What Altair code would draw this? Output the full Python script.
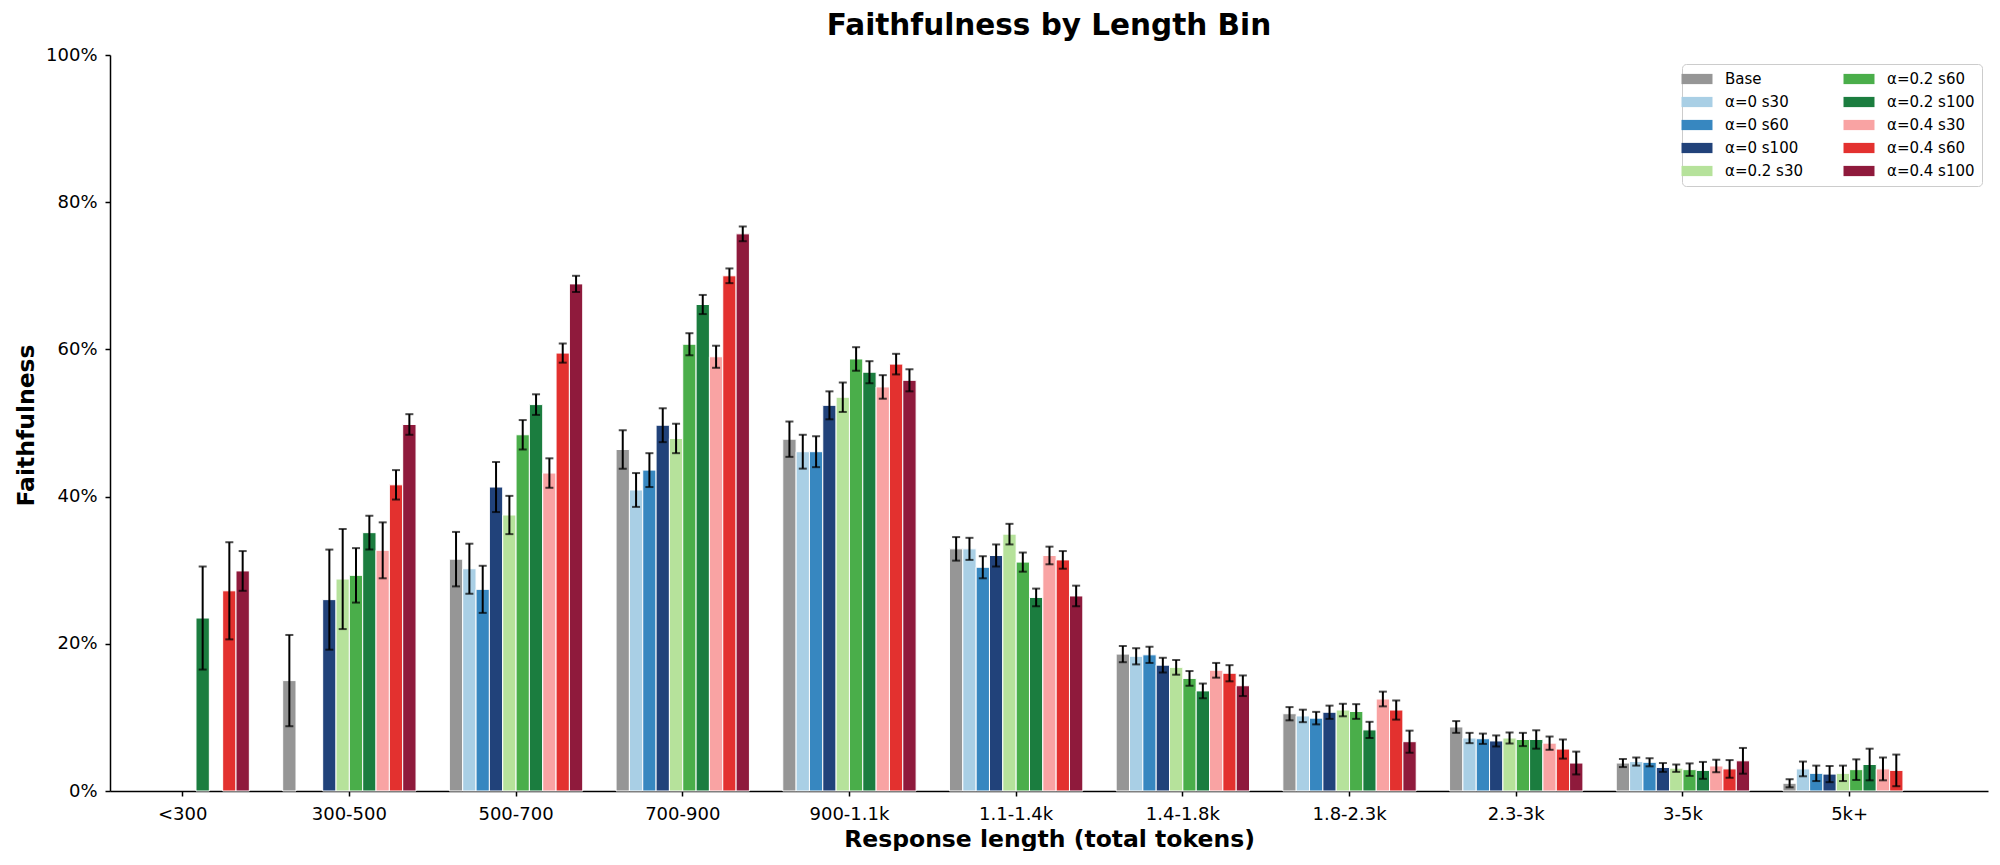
import altair as alt
import pandas as pd

bins = ["<300", "300-500", "500-700", "700-900", "900-1.1k", "1.1-1.4k",
        "1.4-1.8k", "1.8-2.3k", "2.3-3k", "3-5k", "5k+"]

series = ["Base", "α=0 s30", "α=0 s60", "α=0 s100", "α=0.2 s30",
          "α=0.2 s60", "α=0.2 s100", "α=0.4 s30", "α=0.4 s60", "α=0.4 s100"]

colors = ["#969696", "#a9cfe5", "#3787c0", "#21427a", "#b6e29b",
          "#4aae4a", "#1b7d3f", "#f9a3a3", "#e3312f", "#8f1a3c"]

# faithfulness (%) per series across the 11 bins (None = no bar)
base_v   = [None, 15.0, 31.5, 46.4, 47.8, 32.9, 18.6, 10.5, 8.7, 3.8, 1.05]
a0s30_v  = [None, None, 30.2, 40.9, 46.1, 32.9, 18.3, 10.2, 7.2, 4.0, 3.0]
a0s60_v  = [None, None, 27.4, 43.6, 46.1, 30.4, 18.5, 9.9, 7.1, 3.9, 2.4]
a0s100_v = [None, 26.0, 41.3, 49.7, 52.4, 32.0, 17.1, 10.7, 6.8, 3.2, 2.3]
a2s30_v  = [None, 28.8, 37.5, 47.9, 53.5, 34.9, 16.8, 11.0, 7.2, 3.1, 2.4]
a2s60_v  = [None, 29.3, 48.4, 60.7, 58.7, 31.1, 15.3, 10.8, 7.0, 2.9, 2.9]
a2s100_v = [23.5, 35.1, 52.5, 66.1, 56.9, 26.3, 13.6, 8.3, 7.0, 2.8, 3.6]
a4s30_v  = [None, 32.7, 43.2, 59.0, 54.9, 32.0, 16.4, 12.5, 6.5, 3.4, 3.0]
a4s60_v  = [27.2, 41.6, 59.5, 70.0, 58.0, 31.4, 16.0, 11.0, 5.7, 3.0, 2.8]
a4s100_v = [29.9, 49.8, 68.9, 75.7, 55.8, 26.5, 14.3, 6.7, 3.8, 4.1, None]

# error bar half-widths (%)
base_e   = [None, 6.2, 3.7, 2.6, 2.4, 1.6, 1.1, 0.9, 0.8, 0.55, 0.55]
a0s30_e  = [None, None, 3.4, 2.3, 2.3, 1.5, 1.1, 0.85, 0.7, 0.55, 1.0]
a0s60_e  = [None, None, 3.2, 2.3, 2.1, 1.5, 1.1, 0.85, 0.7, 0.55, 1.05]
a0s100_e = [None, 6.8, 3.4, 2.3, 1.9, 1.5, 1.0, 0.9, 0.75, 0.6, 1.1]
a2s30_e  = [None, 6.8, 2.6, 2.0, 2.0, 1.4, 1.0, 0.85, 0.75, 0.5, 1.05]
a2s60_e  = [None, 3.7, 2.0, 1.5, 1.6, 1.3, 1.0, 1.0, 0.9, 0.85, 1.4]
a2s100_e = [7.0, 2.3, 1.4, 1.3, 1.5, 1.2, 1.0, 1.1, 1.25, 1.15, 2.15]
a4s30_e  = [None, 3.8, 2.0, 1.5, 1.6, 1.2, 1.0, 1.0, 0.9, 0.85, 1.55]
a4s60_e  = [6.6, 2.0, 1.3, 1.0, 1.4, 1.2, 1.1, 1.3, 1.3, 1.2, 2.15]
a4s100_e = [2.7, 1.4, 1.1, 1.0, 1.5, 1.4, 1.4, 1.5, 1.55, 1.75, None]

values = [base_v, a0s30_v, a0s60_v, a0s100_v, a2s30_v,
          a2s60_v, a2s100_v, a4s30_v, a4s60_v, a4s100_v]
errors = [base_e, a0s30_e, a0s60_e, a0s100_e, a2s30_e,
          a2s60_e, a2s100_e, a4s30_e, a4s60_e, a4s100_e]

rows = []
for s, vals, errs in zip(series, values, errors):
    for b, v, e in zip(bins, vals, errs):
        if v is None:
            continue
        rows.append({"bin": b, "series": s, "value": v / 100.0,
                     "lo": (v - e) / 100.0, "hi": (v + e) / 100.0})
df = pd.DataFrame(rows)

FONT = "DejaVu Sans"

xenc = alt.X("bin:N", sort=bins,
             scale=alt.Scale(domain=bins, paddingInner=0.2, paddingOuter=0.233, align=0.077),
             axis=alt.Axis(title="Response length (total tokens)", labelAngle=0,
                           labelFont=FONT, labelFontSize=18, labelColor="black",
                           labelPadding=9, tickSize=5, tickWidth=1.5, tickColor="black",
                           domainColor="black", domainWidth=1.5,
                           titleFont=FONT, titleFontSize=23.5, titleFontWeight="bold",
                           titleColor="black", titleX=939, titleY=55,
                           titleAlign="center", titleBaseline="alphabetic"))
xoff = alt.XOffset("series:N", sort=series,
                   scale=alt.Scale(domain=series, paddingInner=0, paddingOuter=0))

base = alt.Chart(df).encode(x=xenc, xOffset=xoff)

yscale = alt.Scale(domain=[0, 1], nice=False)

bars = base.mark_bar(stroke="white", strokeWidth=1).encode(
    y=alt.Y("value:Q", scale=yscale,
            axis=alt.Axis(title="Faithfulness", format=".0%",
                          values=[0, 0.2, 0.4, 0.6, 0.8, 1.0], grid=False,
                          labelFont=FONT, labelFontSize=18, labelColor="black",
                          labelPadding=8, tickSize=5, tickWidth=1.5, tickColor="black",
                          domainColor="black", domainWidth=1.5,
                          titleFont=FONT, titleFontSize=23.5, titleFontWeight="bold",
                          titleColor="black", titleX=-77, titleY=370,
                          titleAlign="center", titleBaseline="alphabetic", titleAngle=270)),
    color=alt.Color("series:N",
                    scale=alt.Scale(domain=series, range=colors),
                    legend=alt.Legend(title=None, orient="none", legendX=1572, legendY=9,
                                      columns=2, columnPadding=40, rowPadding=7,
                                      symbolType="M-2,-0.66H2V0.66H-2Z", symbolSize=240,
                                      symbolStrokeWidth=0, labelOffset=20,
                                      labelFont=FONT, labelFontSize=15, labelColor="black",
                                      padding=7, strokeColor="#cccccc", fillColor="white",
                                      cornerRadius=4)),
)

rules = base.mark_rule(color="black", strokeWidth=2).encode(
    y=alt.Y("lo:Q", scale=yscale), y2="hi:Q")
cap_lo = base.mark_tick(color="black", thickness=2, size=8, orient="horizontal").encode(
    y=alt.Y("lo:Q", scale=yscale))
cap_hi = base.mark_tick(color="black", thickness=2, size=8, orient="horizontal").encode(
    y=alt.Y("hi:Q", scale=yscale))

chart = alt.layer(bars, rules, cap_lo, cap_hi).properties(
    width=1878, height=736,
    title=alt.Title("Faithfulness by Length Bin", font=FONT, fontSize=29.5,
                    fontWeight="bold", color="black", anchor="middle", offset=5),
    autosize=alt.AutoSizeParams(type="none"),
    padding={"left": 102, "top": 47, "right": 4, "bottom": 60},
    background="white",
).configure_view(stroke=None)

chart.save("out.html", embed_options={"renderer": "svg", "actions": False})
